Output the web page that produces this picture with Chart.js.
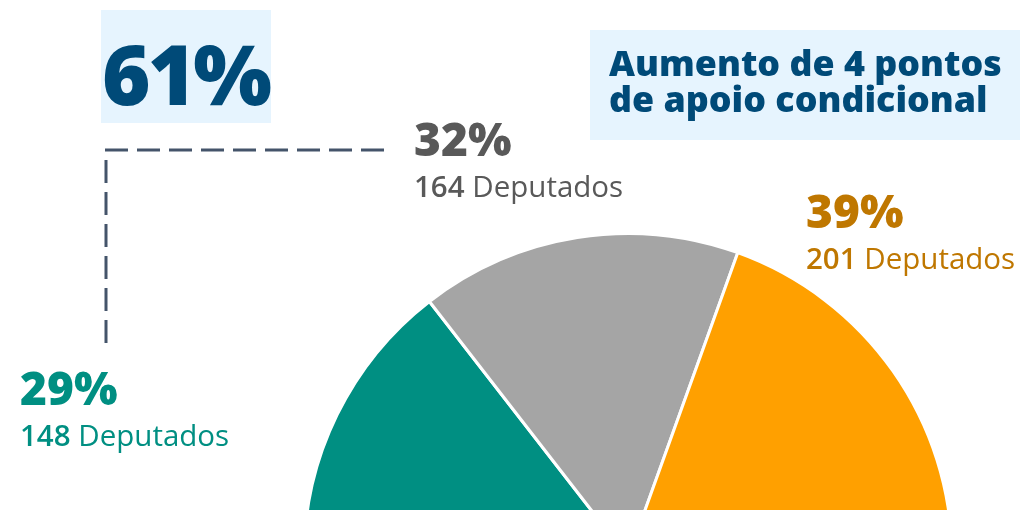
<!DOCTYPE html>
<html>
<head>
<meta charset="utf-8">
<script src="https://cdn.jsdelivr.net/npm/chart.js@4"></script>
<style>
  html, body { margin: 0; padding: 0; background: #fff; overflow: hidden; }
  body { width: 1020px; height: 510px; position: relative; font-family: "Open Sans", sans-serif; }
  #pieBox { position: absolute; left: 0; top: 0; width: 1020px; height: 559px; }
  .box { position: absolute; background: #e6f4fe; }
  .txt { position: absolute; white-space: nowrap; line-height: 1; }
  .pct { font-weight: 800; font-size: 46px; }
  .sub { font-weight: 400; font-size: 29.5px; }
  .sub b { font-weight: 600; }
</style>
</head>
<body>
<div class="box" style="left:101px;top:10px;width:170px;height:113px;"></div>
<div class="box" style="left:590px;top:30px;width:430px;height:110px;"></div>
<div id="pieBox"><canvas id="pie"></canvas></div>
<div id="labels"></div>
<script>
// data
const categories = ['Apoio', 'Apoio condicional', 'Oposição'];
const percents = [29, 32, 39];
const deputies = [148, 164, 201];
const segmentColors = ['#008f82', '#a5a5a5', '#ffa000'];
const labelColors = ['#008f82', '#595959', '#bf7700'];
const totalLabel = percents[0] + percents[1] + '%';
const titleLines = ['Aumento de 4 pontos', 'de apoio condicional'];

// label spots (top-left of percent text)
const labelPos = [[20, 364], [414, 115], [806, 187]];

const labels = document.getElementById('labels');
categories.forEach((c, i) => {
    const p = document.createElement('div');
    p.className = 'txt pct';
    p.style.left = labelPos[i][0] + 'px';
    p.style.top = labelPos[i][1] + 'px';
    p.style.color = labelColors[i];
    p.textContent = percents[i] + '%';
    labels.appendChild(p);

    const s = document.createElement('div');
    s.className = 'txt sub';
    s.style.left = labelPos[i][0] + 'px';
    s.style.top = (labelPos[i][1] + 56) + 'px';
    s.style.color = labelColors[i];
    s.innerHTML = '<b>' + deputies[i] + '</b> Deputados';
    labels.appendChild(s);
});

const big = document.createElement('div');
big.className = 'txt';
big.style.cssText += 'left:102px;top:31px;font-size:83px;font-weight:800;color:#004a78;letter-spacing:-3px;';
big.textContent = totalLabel;
labels.appendChild(big);

const title = document.createElement('div');
title.className = 'txt';
title.style.cssText += 'left:609px;top:44px;font-size:35.8px;font-weight:800;color:#004a78;line-height:36px;';
title.innerHTML = titleLines.join('<br>');
labels.appendChild(title);

// dashed bracket from the 61% box down to the first group
const bracket = {
    id: 'bracket',
    afterDraw(chart) {
        const ctx = chart.ctx;
        ctx.save();
        ctx.strokeStyle = '#44546a';
        ctx.lineWidth = 3;
        ctx.setLineDash([23, 9]);
        ctx.beginPath();
        ctx.moveTo(105, 150);
        ctx.lineTo(389, 150);
        ctx.moveTo(106, 160);
        ctx.lineTo(106, 347);
        ctx.stroke();
        ctx.restore();
    }
};

new Chart(document.getElementById('pie'), {
    type: 'pie',
    data: {
        labels: categories,
        datasets: [{
            data: percents,
            backgroundColor: segmentColors,
            borderColor: '#ffffff',
            borderWidth: 3
        }]
    },
    options: {
        responsive: true,
        maintainAspectRatio: false,
        animation: false,
        rotation: -90,
        circumference: 180,
        layout: { padding: { left: 301, right: 65, top: 232, bottom: 0 } },
        plugins: {
            legend: { display: false },
            tooltip: { enabled: false }
        }
    },
    plugins: [bracket]
});
</script>
</body>
</html>
